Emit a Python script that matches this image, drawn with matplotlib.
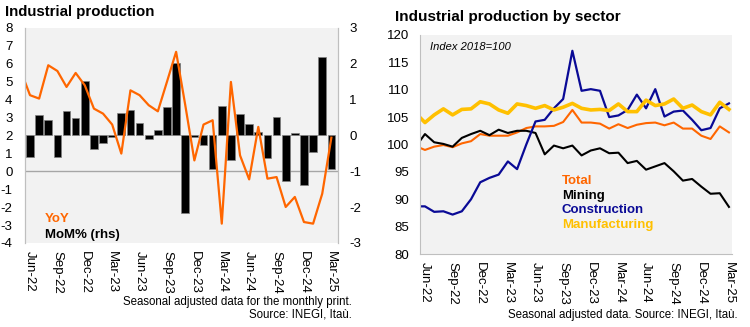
import numpy as np
import pandas as pd
import matplotlib
matplotlib.use("Agg")
import matplotlib.pyplot as plt

plt.rcParams["font.family"] = ["Liberation Sans", "DejaVu Sans"]
plt.rcParams["axes.unicode_minus"] = False

# --- Dados (May-22 .. Mar-25; May-22 fica cortado na borda do eixo) ---
months = pd.period_range("2022-05", "2025-03", freq="M")

yoy = [5.6, 4.25, 4.06, 5.92, 5.6, 4.71, 5.49, 4.8, 3.5, 3.22, 2.61, 0.99,
       4.52, 4.25, 3.69, 3.35, 5.0, 6.67, 3.7, 0.61, 2.61, 2.85, -2.92, 4.99,
       0.89, -0.45, 2.48, -0.41, -0.32, -1.99, -1.43, -2.83, -2.92, -1.25, 1.88]

# MoM% começa em Jun-22
mom = [-0.59, 0.56, 0.44, -0.59, 0.67, 0.49, 1.53, -0.39, -0.22, -0.05, 0.64,
       0.72, 0.34, -0.09, 0.16, 0.79, 2.03, -2.16, -0.05, -0.26, -0.93, 0.81,
       -0.67, 0.6, 0.33, 0.11, -0.62, 0.51, -1.26, 0.07, -1.37, -0.45, 2.19, -0.93]

total = [99.7, 99.0, 99.6, 99.9, 99.5, 100.2, 100.6, 101.9, 101.6, 101.6, 101.6,
         102.2, 103.0, 103.3, 103.3, 103.4, 104.1, 106.3, 104.0, 104.0, 103.8,
         102.9, 103.7, 103.0, 103.6, 103.9, 104.0, 103.5, 104.0, 102.9, 102.9,
         101.6, 101.0, 103.3, 102.2]

mining = [99.6, 101.9, 100.4, 100.1, 99.6, 101.2, 101.9, 102.5, 101.7, 102.7, 102.1,
          102.5, 102.5, 102.1, 98.2, 99.8, 99.3, 99.8, 98.0, 98.9, 99.3,
          98.4, 98.5, 96.6, 97.0, 95.4, 96.0, 96.6, 95.1, 93.4, 93.7,
          92.3, 91.0, 91.1, 88.6]

construction = [88.7, 88.7, 87.7, 87.8, 87.2, 87.8, 90.0, 93.1, 93.9, 94.5, 96.9,
                95.5, 100.0, 104.2, 104.5, 106.6, 108.3, 117.1, 109.8, 110.1, 109.8,
                105.0, 105.3, 106.3, 109.1, 106.6, 110.1, 105.1, 106.0, 106.2, 104.5,
                102.6, 103.0, 106.6, 107.5]

manufacturing = [105.7, 104.0, 105.4, 106.5, 105.4, 106.4, 106.5, 107.8, 107.4, 106.3, 105.7,
                 107.4, 107.1, 106.6, 107.1, 106.3, 106.8, 107.5, 106.6, 106.3, 106.4,
                 106.2, 107.4, 106.0, 106.0, 108.1, 107.1, 107.4, 108.3, 106.6, 107.2,
                 106.0, 105.4, 107.7, 106.4]

tick_labels = ["Jun-22", "Sep-22", "Dec-22", "Mar-23", "Jun-23", "Sep-23",
               "Dec-23", "Mar-24", "Jun-24", "Sep-24", "Dec-24", "Mar-25"]

ORANGE = "#FF6600"
NAVY = "#0A0A96"
GOLD = "#FFC000"
BG = "#F2F2F2"
SPINE = "#BFBFBF"

x = np.arange(len(months))
tick_pos = x[1::3]

fig = plt.figure(figsize=(7.5, 3.27), dpi=100)

# --- Gráfico da esquerda: YoY e MoM ---
ax1 = fig.add_axes([0.0333, 0.2569, 0.4174, 0.6575])
ax1r = ax1.twinx()
ax1.set_zorder(ax1r.get_zorder() + 1)
ax1.patch.set_visible(False)
ax1r.patch.set_visible(True)
ax1r.patch.set_facecolor(BG)

ax1r.axhline(-1, color="#A6A6A6", lw=1, zorder=1)  # zero do eixo esquerdo
ax1r.bar(x[1:], mom, width=0.84, color="black", edgecolor="#808080",
         linewidth=0.5, zorder=3)
ax1r.set_ylim(-3, 3)
ax1r.set_yticks(range(-3, 4))

ax1.plot(x, yoy, color=ORANGE, lw=1.6)
ax1.set_ylim(-4, 8)
ax1.set_yticks(range(-4, 9))
ax1.set_xlim(0.45, 34.73)
ax1.set_xticks(tick_pos)
ax1.set_xticklabels(tick_labels, rotation=270)

for a in (ax1, ax1r):
    a.tick_params(length=0, labelsize=9.5)
    a.spines["top"].set_visible(False)
    a.spines["bottom"].set_visible(False)
    a.spines["left"].set_color(SPINE)
    a.spines["right"].set_color(SPINE)
ax1.tick_params(axis="y", pad=9)
ax1r.tick_params(axis="y", pad=8)
ax1.tick_params(axis="x", pad=6)

ax1.text(0.064, 0.112, "YoY", color=ORANGE, fontweight="bold", fontsize=9.5,
         va="center", transform=ax1.transAxes)
ax1.text(0.064, 0.037, "MoM% (rhs)", color="black", fontweight="bold", fontsize=9.5,
         va="center", transform=ax1.transAxes)

fig.text(0.0067, 0.963, "Industrial production", fontweight="bold", fontsize=10.8,
         va="center")
fig.text(0.4693, 0.0765, "Seasonal adjusted data for the monthly print.",
         fontsize=8.3, ha="right", va="center")
fig.text(0.4693, 0.0367, "Source: INEGI, Itaù.", fontsize=8.3, ha="right", va="center")

# --- Gráfico da direita: por setor ---
ax2 = fig.add_axes([0.56, 0.2232, 0.416, 0.670], facecolor=BG)
ax2.plot(x, total, color=ORANGE, lw=1.5)
ax2.plot(x, mining, color="black", lw=1.5)
ax2.plot(x, construction, color=NAVY, lw=1.6)
ax2.plot(x, manufacturing, color=GOLD, lw=2.6)
ax2.set_ylim(80, 120)
ax2.set_yticks(range(80, 121, 5))
ax2.set_xlim(0.46, 34.33)
ax2.set_xticks(tick_pos)
ax2.set_xticklabels(tick_labels, rotation=270)
ax2.tick_params(length=0, labelsize=9.5)
ax2.tick_params(axis="y", pad=8)
ax2.tick_params(axis="x", pad=6)
ax2.spines["top"].set_visible(False)
ax2.spines["right"].set_visible(False)
ax2.spines["left"].set_color(SPINE)
ax2.spines["bottom"].set_color(SPINE)

ax2.text(0.032, 0.945, "Index 2018=100", fontstyle="italic", fontsize=8,
         va="center", transform=ax2.transAxes)
legend_items = [("Total", ORANGE), ("Mining", "black"),
                ("Construction", NAVY), ("Manufacturing", GOLD)]
for k, (nome, cor) in enumerate(legend_items):
    ax2.text(0.455, 0.333 - k * 0.067, nome, color=cor, fontweight="bold",
             fontsize=9.5, va="center", transform=ax2.transAxes)

fig.text(0.527, 0.948, "Industrial production by sector", fontweight="bold",
         fontsize=11, va="center")
fig.text(0.984, 0.0367, "Seasonal adjusted data. Source: INEGI, Itaù.",
         fontsize=8.3, ha="right", va="center")

fig.savefig("out.png", dpi=100)
plt.close()
